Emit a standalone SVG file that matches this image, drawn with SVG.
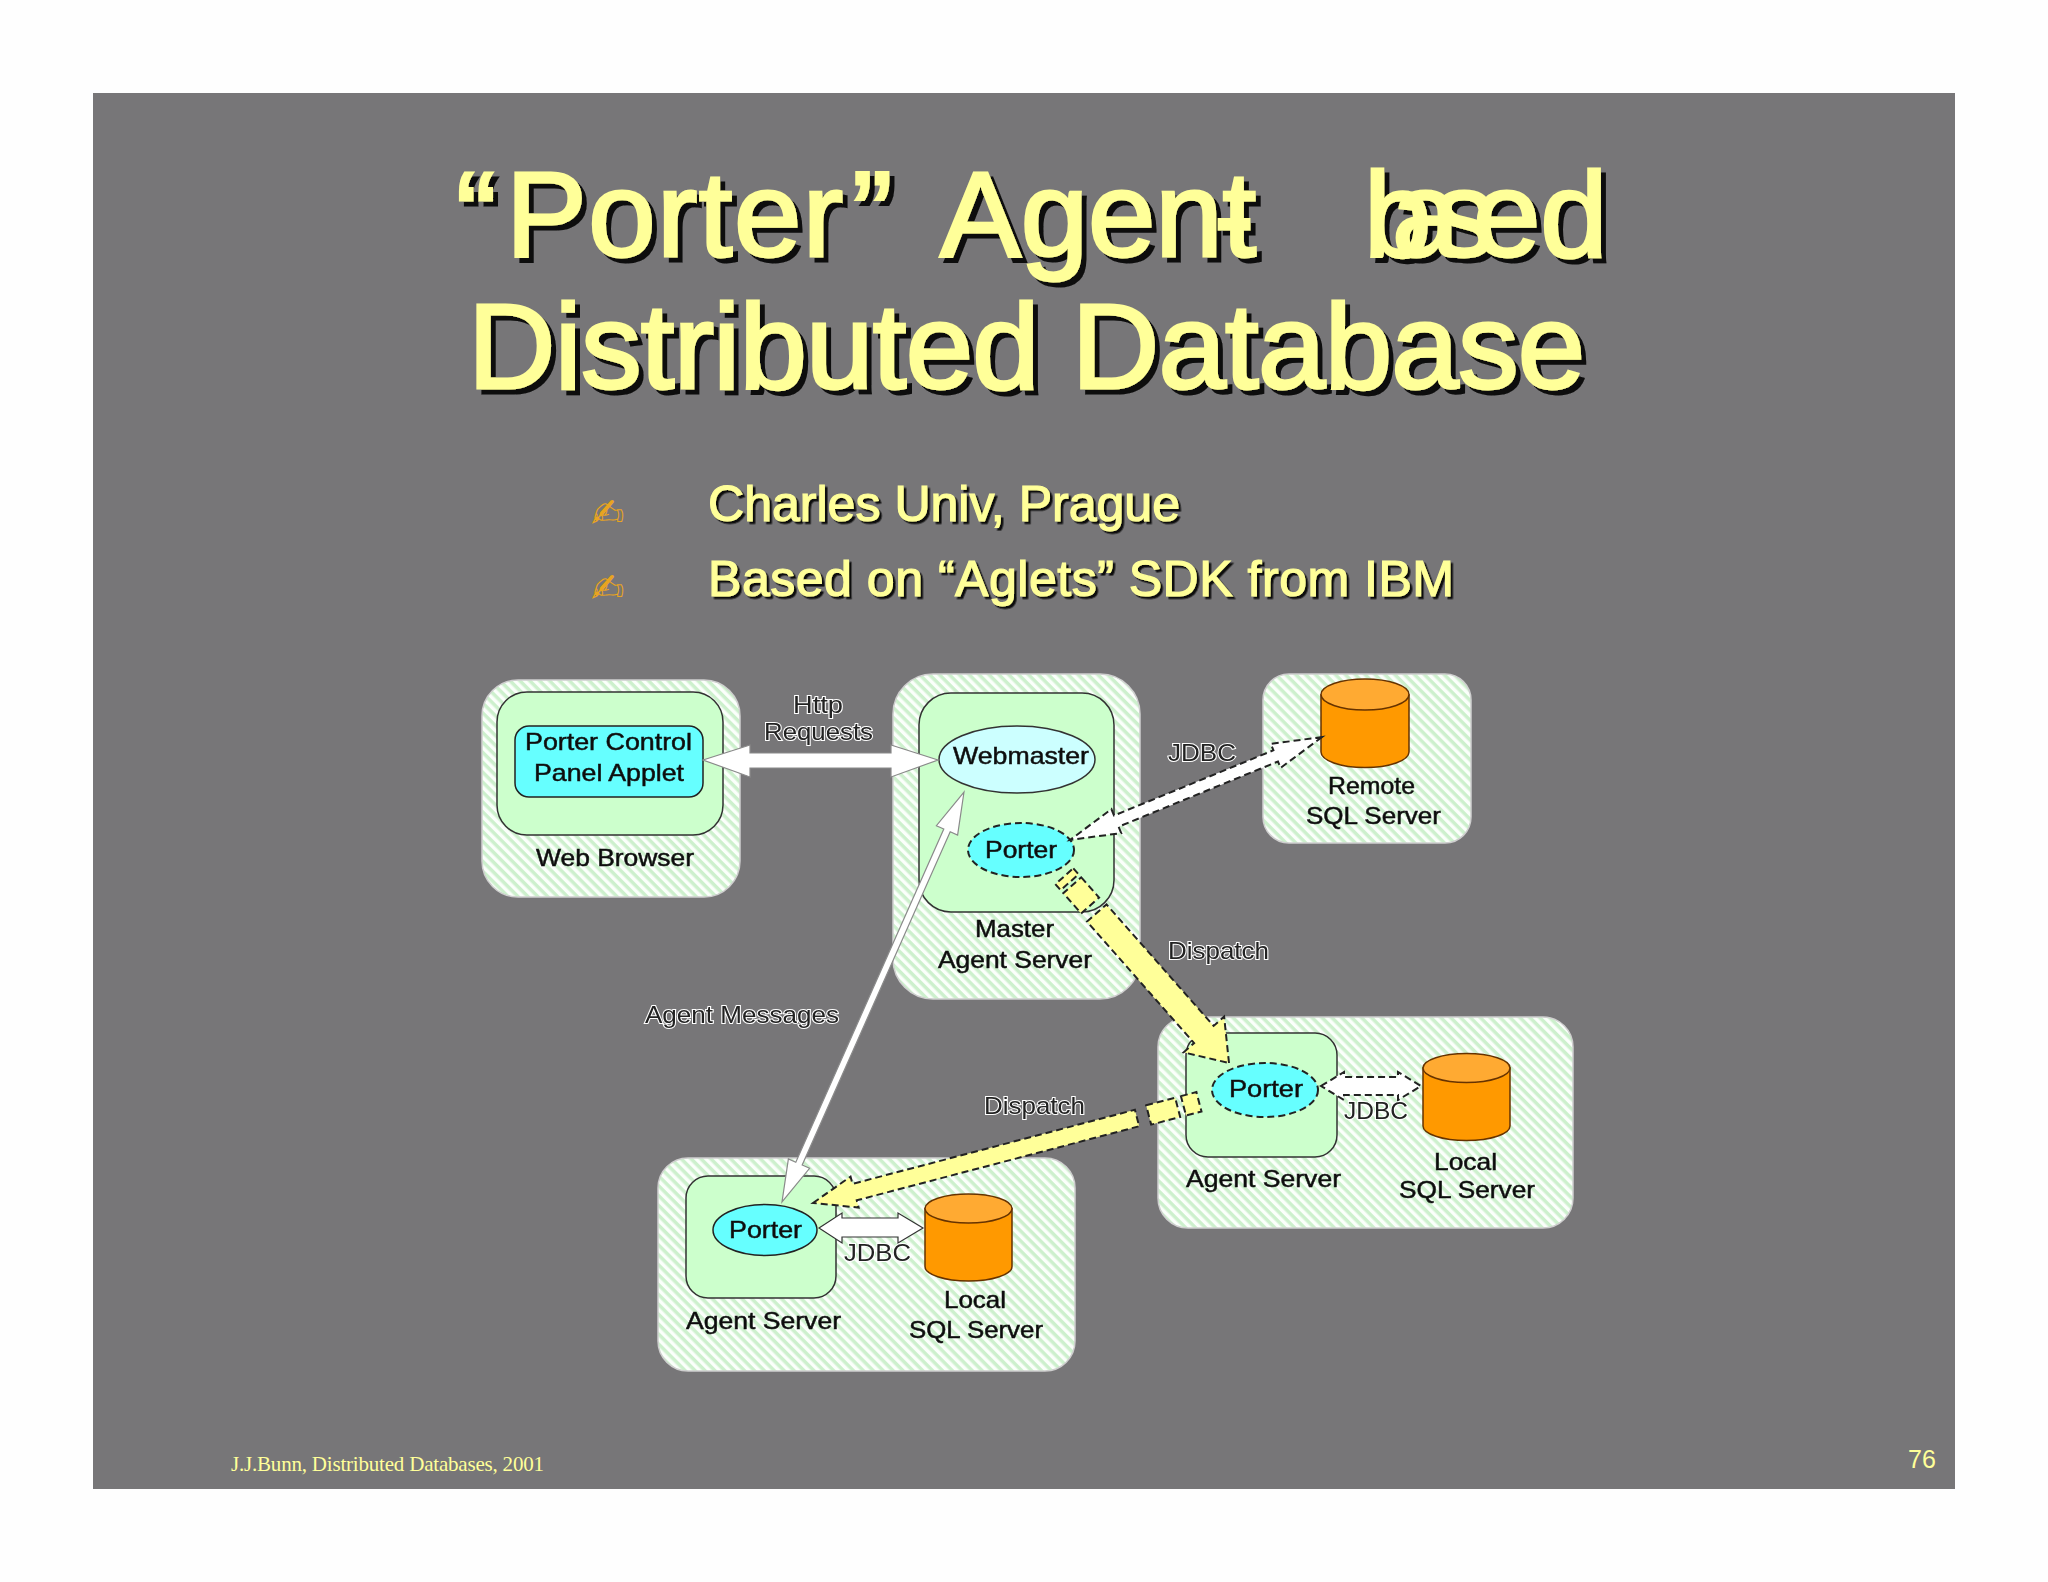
<svg xmlns="http://www.w3.org/2000/svg" width="2048" height="1582" viewBox="0 0 2048 1582">
<style>
.sans{font-family:"Liberation Sans",Arial,sans-serif}
.title{font-size:121px;fill:#ffff99;stroke:#ffff99;stroke-width:3;filter:url(#sh)}
.bul{font-size:50px;fill:#ffff99;stroke:#ffff99;stroke-width:1.2;filter:url(#sh2)}
.mark{font-family:"DejaVu Sans",sans-serif;font-size:40px;fill:#e8a420}
.lbl{font-family:"Liberation Sans",Arial,sans-serif;font-size:24px;fill:#111;stroke:#111;stroke-width:.5}
.cl{font-family:"Liberation Sans",Arial,sans-serif;font-size:24px;fill:#222;stroke:#fff;stroke-width:2;paint-order:stroke}
.outer{fill:url(#hatch);stroke:#cfcfcf;stroke-width:1.5}
.inner{fill:#ccffcc;stroke:#333;stroke-width:1.5}
.cyl{fill:#ff9900;stroke:#663300;stroke-width:1.5}
.cyltop{fill:#ffaa33;stroke:#663300;stroke-width:1.5}
.pd{fill:#66ffff;stroke:#222;stroke-width:2;stroke-dasharray:7 4}
.ps{fill:#66ffff;stroke:#222;stroke-width:1.5}
.wht{fill:#fff;stroke:#8a8a8a;stroke-width:1.2}
.whd{fill:#fff;stroke:#222;stroke-width:2;stroke-dasharray:7 4}
.yel{fill:#ffff99;stroke:#222;stroke-width:2;stroke-dasharray:7 4}
.soft{filter:url(#soft)}
</style>
<defs>
<pattern id="hatch" width="7" height="7" patternUnits="userSpaceOnUse" patternTransform="rotate(45)">
<rect width="7" height="7" fill="#fbfffb"/><rect width="7" height="3.500" fill="#cdf0cd"/>
</pattern>
<filter id="sh" x="-5%" y="-10%" width="110%" height="120%"><feDropShadow dx="5" dy="5" stdDeviation="0" flood-color="#111"/></filter>
<filter id="sh2" x="-5%" y="-10%" width="110%" height="120%"><feDropShadow dx="2.500" dy="2.500" stdDeviation="0" flood-color="#111"/></filter>
<filter id="soft" x="-5%" y="-5%" width="110%" height="110%"><feGaussianBlur stdDeviation="0.5"/></filter>
</defs>
<rect width="2048" height="1582" fill="#fefefe"/>
<rect id="slide" x="93" y="93" width="1862" height="1396" fill="#777678"/>
<g id="heading" class="sans">
<text class="title" y="256"><tspan x="456">“</tspan><tspan x="506" style="letter-spacing:1.500px">Porter</tspan><tspan x="852">”</tspan><tspan x="940">Agent</tspan><tspan x="1214">-</tspan><tspan x="1364">b</tspan><tspan x="1392">a</tspan><tspan x="1434">s</tspan><tspan x="1473">ed</tspan></text>
<text class="title" x="468" y="388" textLength="1117">Distributed Database</text>
</g>
<g id="bullets" class="sans">
<text class="mark" x="591" y="527">✍</text>
<text class="bul" x="708" y="521" textLength="472">Charles Univ, Prague</text>
<text class="mark" x="591" y="602">✍</text>
<text class="bul" x="708" y="596" textLength="746">Based on “Aglets” SDK from IBM</text>
</g>
<g id="web-browser" class="soft">
<rect class="outer" x="482" y="680" width="258" height="217" rx="36"/>
<rect class="inner" x="497" y="692" width="226" height="143" rx="30"/>
<rect x="515" y="726" width="188" height="71" rx="14" fill="#66ffff" stroke="#222" stroke-width="1.500"/>
<text class="lbl" x="525" y="750" textLength="167" lengthAdjust="spacingAndGlyphs">Porter Control</text>
<text class="lbl" x="534" y="781" textLength="150" lengthAdjust="spacingAndGlyphs">Panel Applet</text>
<text class="lbl" x="536" y="866" textLength="158" lengthAdjust="spacingAndGlyphs">Web Browser</text>
</g>
<g id="master-server" class="soft">
<rect class="outer" x="893" y="674" width="247" height="325" rx="40"/>
<rect class="inner" x="919" y="693" width="195" height="219" rx="32"/>
<text class="lbl" x="975" y="937" textLength="79" lengthAdjust="spacingAndGlyphs">Master</text>
<text class="lbl" x="938" y="968" textLength="154" lengthAdjust="spacingAndGlyphs">Agent Server</text>
</g>
<g id="webmaster" class="soft">
<ellipse cx="1017" cy="759.500" rx="78" ry="33.500" fill="#ccffff" stroke="#333" stroke-width="1.500"/>
<text class="lbl" x="953" y="764" textLength="136" lengthAdjust="spacingAndGlyphs">Webmaster</text>
</g>
<g id="porter-master" class="soft">
<ellipse class="pd" cx="1021" cy="850" rx="53" ry="27"/>
<text class="lbl" x="985" y="858" textLength="72" lengthAdjust="spacingAndGlyphs">Porter</text>
</g>
<g id="remote-sql" class="soft">
<rect class="outer" x="1263" y="674" width="208" height="169" rx="26"/>
<path class="cyl" d="M1321 695V752A44 15.500 0 0 0 1409 752V695Z"/>
<ellipse class="cyltop" cx="1365" cy="694.500" rx="44" ry="15.500"/>
<text class="lbl" x="1328" y="794" textLength="87" lengthAdjust="spacingAndGlyphs">Remote</text>
<text class="lbl" x="1306" y="824" textLength="135" lengthAdjust="spacingAndGlyphs">SQL Server</text>
</g>
<g id="agent-server-right" class="soft">
<rect class="outer" x="1158" y="1017" width="415" height="211" rx="30"/>
<rect class="inner" x="1186" y="1033" width="151" height="124" rx="22"/>
<text class="lbl" x="1186" y="1187" textLength="155" lengthAdjust="spacingAndGlyphs">Agent Server</text>
<path class="cyl" d="M1423 1068V1126A43.500 14.500 0 0 0 1510 1126V1068Z"/>
<ellipse class="cyltop" cx="1466.500" cy="1068" rx="43.500" ry="14.500"/>
<text class="lbl" x="1434" y="1170" textLength="63" lengthAdjust="spacingAndGlyphs">Local</text>
<text class="lbl" x="1399" y="1198" textLength="136" lengthAdjust="spacingAndGlyphs">SQL Server</text>
</g>
<g id="porter-right" class="soft">
<ellipse class="pd" cx="1265" cy="1090" rx="53" ry="27"/>
<text class="lbl" x="1229" y="1097" textLength="74" lengthAdjust="spacingAndGlyphs">Porter</text>
</g>
<g id="agent-server-left" class="soft">
<rect class="outer" x="658" y="1158" width="417" height="213" rx="30"/>
<rect class="inner" x="686" y="1176" width="150" height="122" rx="22"/>
<text class="lbl" x="686" y="1329" textLength="155" lengthAdjust="spacingAndGlyphs">Agent Server</text>
<path class="cyl" d="M925 1208.500V1266.500A43.500 14.500 0 0 0 1012 1266.500V1208.500Z"/>
<ellipse class="cyltop" cx="968.500" cy="1208.500" rx="43.500" ry="14.500"/>
<text class="lbl" x="944" y="1308" textLength="62" lengthAdjust="spacingAndGlyphs">Local</text>
<text class="lbl" x="909" y="1338" textLength="134" lengthAdjust="spacingAndGlyphs">SQL Server</text>
</g>
<g id="porter-left" class="soft">
<ellipse class="ps" cx="765" cy="1230" rx="52" ry="25.500"/>
<text class="lbl" x="729" y="1238" textLength="73" lengthAdjust="spacingAndGlyphs">Porter</text>
</g>
<g id="connectors" class="soft">
<polygon class="wht" points="703,760 750,745 750,753 891,753 891,745 938,760 891,777 891,768 750,768 750,777"/>
<polygon class="wht" points="964,792 957.600,835.100 950.200,831.800 802.200,1165 809.600,1168.300 782,1202 788.400,1158.900 795.800,1162.200 943.800,829 936.400,825.700"/>
<polygon class="whd" points="1322,737 1280.600,767.900 1278,761.500 1118.600,826.700 1121.200,833.100 1070,840 1111.400,809.100 1114,815.500 1273.400,750.300 1270.800,743.900"/>
<polygon class="whd" points="1321,1086 1344,1072 1344,1077 1398,1077 1398,1072 1421,1086 1398,1100 1398,1095 1344,1095 1344,1100"/>
<polygon class="wht" points="819,1228 842,1213 842,1218 898,1218 898,1213 923,1228 898,1243 898,1237 842,1237 842,1243" style="stroke:#333"/>
<g transform="translate(1229 1063) rotate(48.600)">
<polygon class="yel" points="0,0 -38,-27 -38,-13 -200,-13 -200,13 -38,13 -38,27"/>
<rect class="yel" x="-237" y="-12" width="27" height="24"/>
<rect class="yel" x="-249" y="-12" width="8" height="24"/>
</g>
<g transform="translate(813 1203) rotate(-14.700)">
<polygon class="yel" points="0,0 43,-16 43,-8.500 335,-8.500 335,8.500 43,8.500 43,16"/>
<rect class="yel" x="347" y="-10" width="30" height="20"/>
<rect class="yel" x="383" y="-10" width="16" height="20"/>
</g>
<text class="cl" x="793" y="713" textLength="50" lengthAdjust="spacingAndGlyphs">Http</text>
<text class="cl" x="764" y="740" textLength="109" lengthAdjust="spacingAndGlyphs">Requests</text>
<text class="cl" x="1168" y="761" textLength="68" lengthAdjust="spacingAndGlyphs">JDBC</text>
<text class="cl" x="1168" y="959" textLength="101" lengthAdjust="spacingAndGlyphs">Dispatch</text>
<text class="cl" x="645" y="1023" textLength="194" lengthAdjust="spacingAndGlyphs">Agent Messages</text>
<text class="cl" x="984" y="1114" textLength="101" lengthAdjust="spacingAndGlyphs">Dispatch</text>
<text class="cl" x="1344" y="1119" textLength="64" lengthAdjust="spacingAndGlyphs">JDBC</text>
<text class="cl" x="844" y="1261" textLength="67" lengthAdjust="spacingAndGlyphs">JDBC</text>
</g>
<g id="footer">
<text x="231" y="1471" font-family="'Liberation Serif',serif" font-size="21" fill="#ffff99" textLength="313">J.J.Bunn, Distributed Databases, 2001</text>
<text class="sans" x="1908" y="1468" font-size="25" fill="#ffff99">76</text>
</g>
</svg>
